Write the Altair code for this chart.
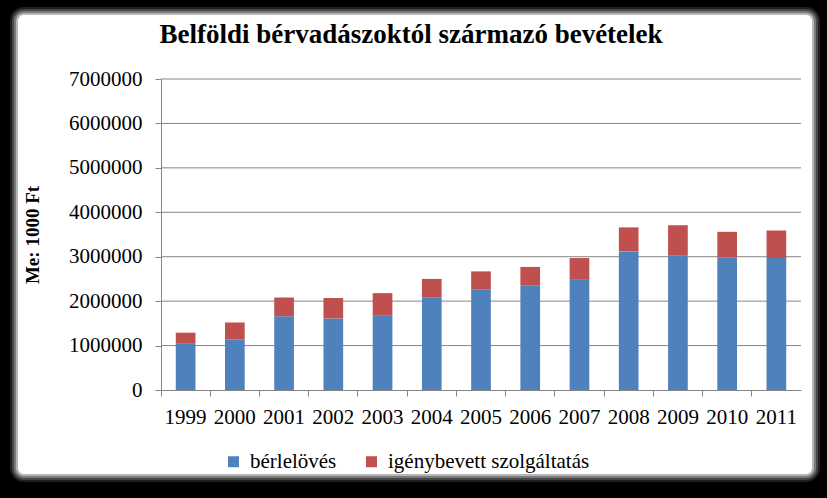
import altair as alt
import pandas as pd

years = ["1999", "2000", "2001", "2002", "2003", "2004", "2005",
         "2006", "2007", "2008", "2009", "2010", "2011"]
berlelo = [1040000, 1140000, 1660000, 1610000, 1680000, 2080000, 2260000,
           2350000, 2480000, 3120000, 3020000, 2990000, 2970000]
osszes = [1290000, 1520000, 2080000, 2070000, 2180000, 2500000, 2670000,
          2770000, 2970000, 3660000, 3710000, 3560000, 3590000]
series = ["bérlelövés", "igénybevett szolgáltatás"]
colors = ["#4F81BD", "#C0504D"]
y_ticks = [0, 1000000, 2000000, 3000000, 4000000, 5000000, 6000000, 7000000]
title_text = "Belföldi bérvadászoktól származó bevételek"
y_title = "Me: 1000 Ft"

rows = []
for yr, b, t in zip(years, berlelo, osszes):
    rows.append({"ev": yr, "sor": series[0], "ertek": b, "rend": 0})
    rows.append({"ev": yr, "sor": series[1], "ertek": t - b, "rend": 1})
df = pd.DataFrame(rows)
grid_df = pd.DataFrame({"v": y_ticks[1:]})

W, H = 640, 311
FONT = "Liberation Serif"

yscale = alt.Scale(domain=[0, 7000000], nice=False)
yaxis = alt.Axis(values=y_ticks, format="d", grid=False, zindex=1,
                 labelFont=FONT,
                 labelFontSize=21, labelColor="black", labelPadding=13,
                 tickColor="#868686", tickSize=6, domainColor="#868686",
                 title=y_title, titleFont=FONT, titleFontSize=19,
                 titleFontWeight="bold", titleColor="black",
                 titleX=-129, titleY=H / 2, titleAngle=-90,
                 titleAlign="center", titleBaseline="middle")

# decorative white panel with soft glow on black background
panel_df = pd.DataFrame({"k": [0]})
panels = []
for grow, op in [(8, 0.12), (6, 0.18), (4, 0.28), (2, 0.45), (0, 1.0)]:
    panels.append(
        alt.Chart(panel_df).mark_rect(color="white", opacity=op,
                                      cornerRadius=6 + grow).encode(
            x=alt.value(-143 - grow), x2=alt.value(651 + grow),
            y=alt.value(-64 - grow), y2=alt.value(395 + grow))
    )

title = alt.Chart(pd.DataFrame({"t": [title_text]})).mark_text(
    font=FONT, fontSize=27, fontWeight="bold", color="black",
    align="center", baseline="alphabetic"
).encode(text="t:N", x=alt.value(250), y=alt.value(-36))

grid = alt.Chart(grid_df).mark_rule(color="#868686", strokeWidth=1).encode(
    y=alt.Y("v:Q", scale=yscale, axis=yaxis)
)

bars = alt.Chart(df).mark_bar(width=alt.RelativeBandSize(0.4)).encode(
    x=alt.X("ev:O", sort=years, title=None,
            scale=alt.Scale(paddingInner=0, paddingOuter=0),
            axis=alt.Axis(labelAngle=0, bandPosition=0, zindex=1,
                          labelFont=FONT, labelFontSize=21,
                          labelColor="black", labelPadding=10,
                          tickColor="#868686", tickSize=6,
                          domainColor="#868686")),
    y=alt.Y("ertek:Q", stack="zero", scale=yscale, axis=yaxis),
    color=alt.Color("sor:N", scale=alt.Scale(domain=series, range=colors),
                    legend=alt.Legend(title=None, orient="none",
                                      direction="horizontal",
                                      legendX=62, legendY=372, zindex=1,
                                      symbolType="square", symbolSize=121,
                                      symbolStrokeWidth=0, labelLimit=400,
                                      labelFont=FONT, labelFontSize=21,
                                      labelColor="black", labelOffset=6,
                                      columnPadding=24)),
    order=alt.Order("rend:Q"),
)

chart = alt.layer(*panels, title, grid, bars).properties(
    width=W, height=H,
    autosize=alt.AutoSizeParams(type="none"),
    padding={"left": 161, "top": 79, "right": 26, "bottom": 108},
    background="black",
).configure_view(stroke=None).configure_axis(
    labelFont=FONT
).configure_legend(labelFont=FONT)

chart.save("out.html", embed_options={"renderer": "svg", "actions": False})
